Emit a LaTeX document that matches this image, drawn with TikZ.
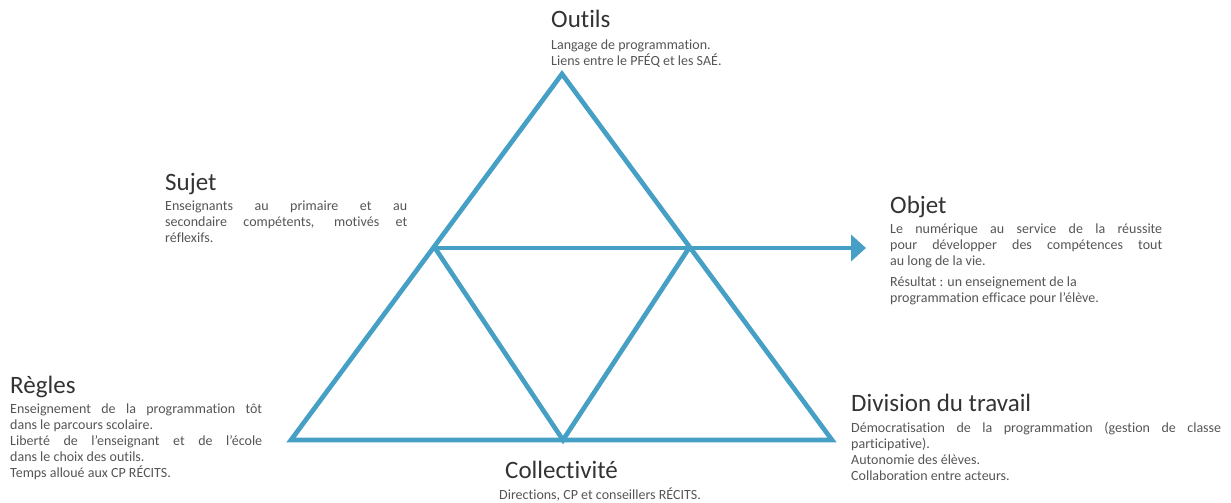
\documentclass[tikz,border=0pt]{standalone}
\usepackage{fontspec}
\setmainfont{Carlito}[Ligatures=NoCommon]
\usepackage{xcolor}
\definecolor{triblue}{RGB}{70,159,196}
\definecolor{titlegray}{RGB}{51,51,51}
\definecolor{textgray}{RGB}{85,85,85}
\usetikzlibrary{arrows.meta,positioning}
\setlength{\parindent}{0pt}

\begin{document}
\begin{tikzpicture}[x=1pt,y=-1pt,
  tri/.style={line width=4.7pt,draw=triblue},
  heading/.style={anchor=base west,inner sep=0pt,text=titlegray,font=\fontsize{25}{29}\selectfont},
  desc/.style={inner sep=0pt,text=textgray,font=\fontsize{14}{16}\selectfont}]
  \useasboundingbox (0,0) rectangle (1231,503);
  % triangle corners
  \coordinate (top) at (562,74);
  \coordinate (bl) at (291,440);
  \coordinate (br) at (832,440);
  \coordinate (ml) at (435,248);
  \coordinate (mr) at (689,248);
  \coordinate (bm) at (563,440);
  \coordinate (tip) at (866,248);
  \draw[tri] (top) -- (bl) -- (br) -- cycle;
  \draw[tri] (ml) -- (bm) -- (mr);
  \draw[tri,-{Triangle[length=15pt,width=26pt]}] (ml) -- (tip);
  % labels
  \node[heading] (outils) at (551,28) {Outils};
  \node[desc,below right=12pt and 0pt of outils.base west,align=left] (outilstxt) {Langage de programmation.\\Liens entre le PFÉQ et les SAÉ.};
  \node[heading] (sujet) at (165,190) {Sujet};
  \node[desc,below right=11pt and 0pt of sujet.base west,text width=242pt,align=justify] (sujettxt) {Enseignants au primaire et au\linebreak secondaire compétents, motivés et\linebreak réflexifs.};
  \node[heading] (objet) at (890,213) {Objet};
  \node[desc,below right=11pt and 0pt of objet.base west,text width=272pt,align=justify] (objettxt) {Le numérique au service de la réussite\linebreak pour développer des compétences tout\linebreak au long de la vie.\par\vspace{5pt}Résultat : un enseignement de la\\programmation efficace pour l’élève.};
  \node[heading] (regles) at (10,393) {Règles};
  \node[desc,below right=11pt and 0pt of regles.base west,text width=252pt,align=justify] (reglestxt) {Enseignement de la programmation tôt\linebreak dans le parcours scolaire.\par Liberté de l’enseignant et de l’école\linebreak dans le choix des outils.\par Temps alloué aux CP RÉCITS.};
  \node[heading] (division) at (851,411) {Division du travail};
  \node[desc,below right=11pt and 0pt of division.base west,text width=370pt,align=justify] (divisiontxt) {Démocratisation de la programmation (gestion de classe\linebreak participative).\par Autonomie des élèves.\par Collaboration entre acteurs.};
  \node[heading] (collectivite) at (505,478) {Collectivité};
  \node[desc,below right=10pt and -6pt of collectivite.base west,align=left] (collectivitetxt) {Directions, CP et conseillers RÉCITS.};
\end{tikzpicture}
\end{document}
